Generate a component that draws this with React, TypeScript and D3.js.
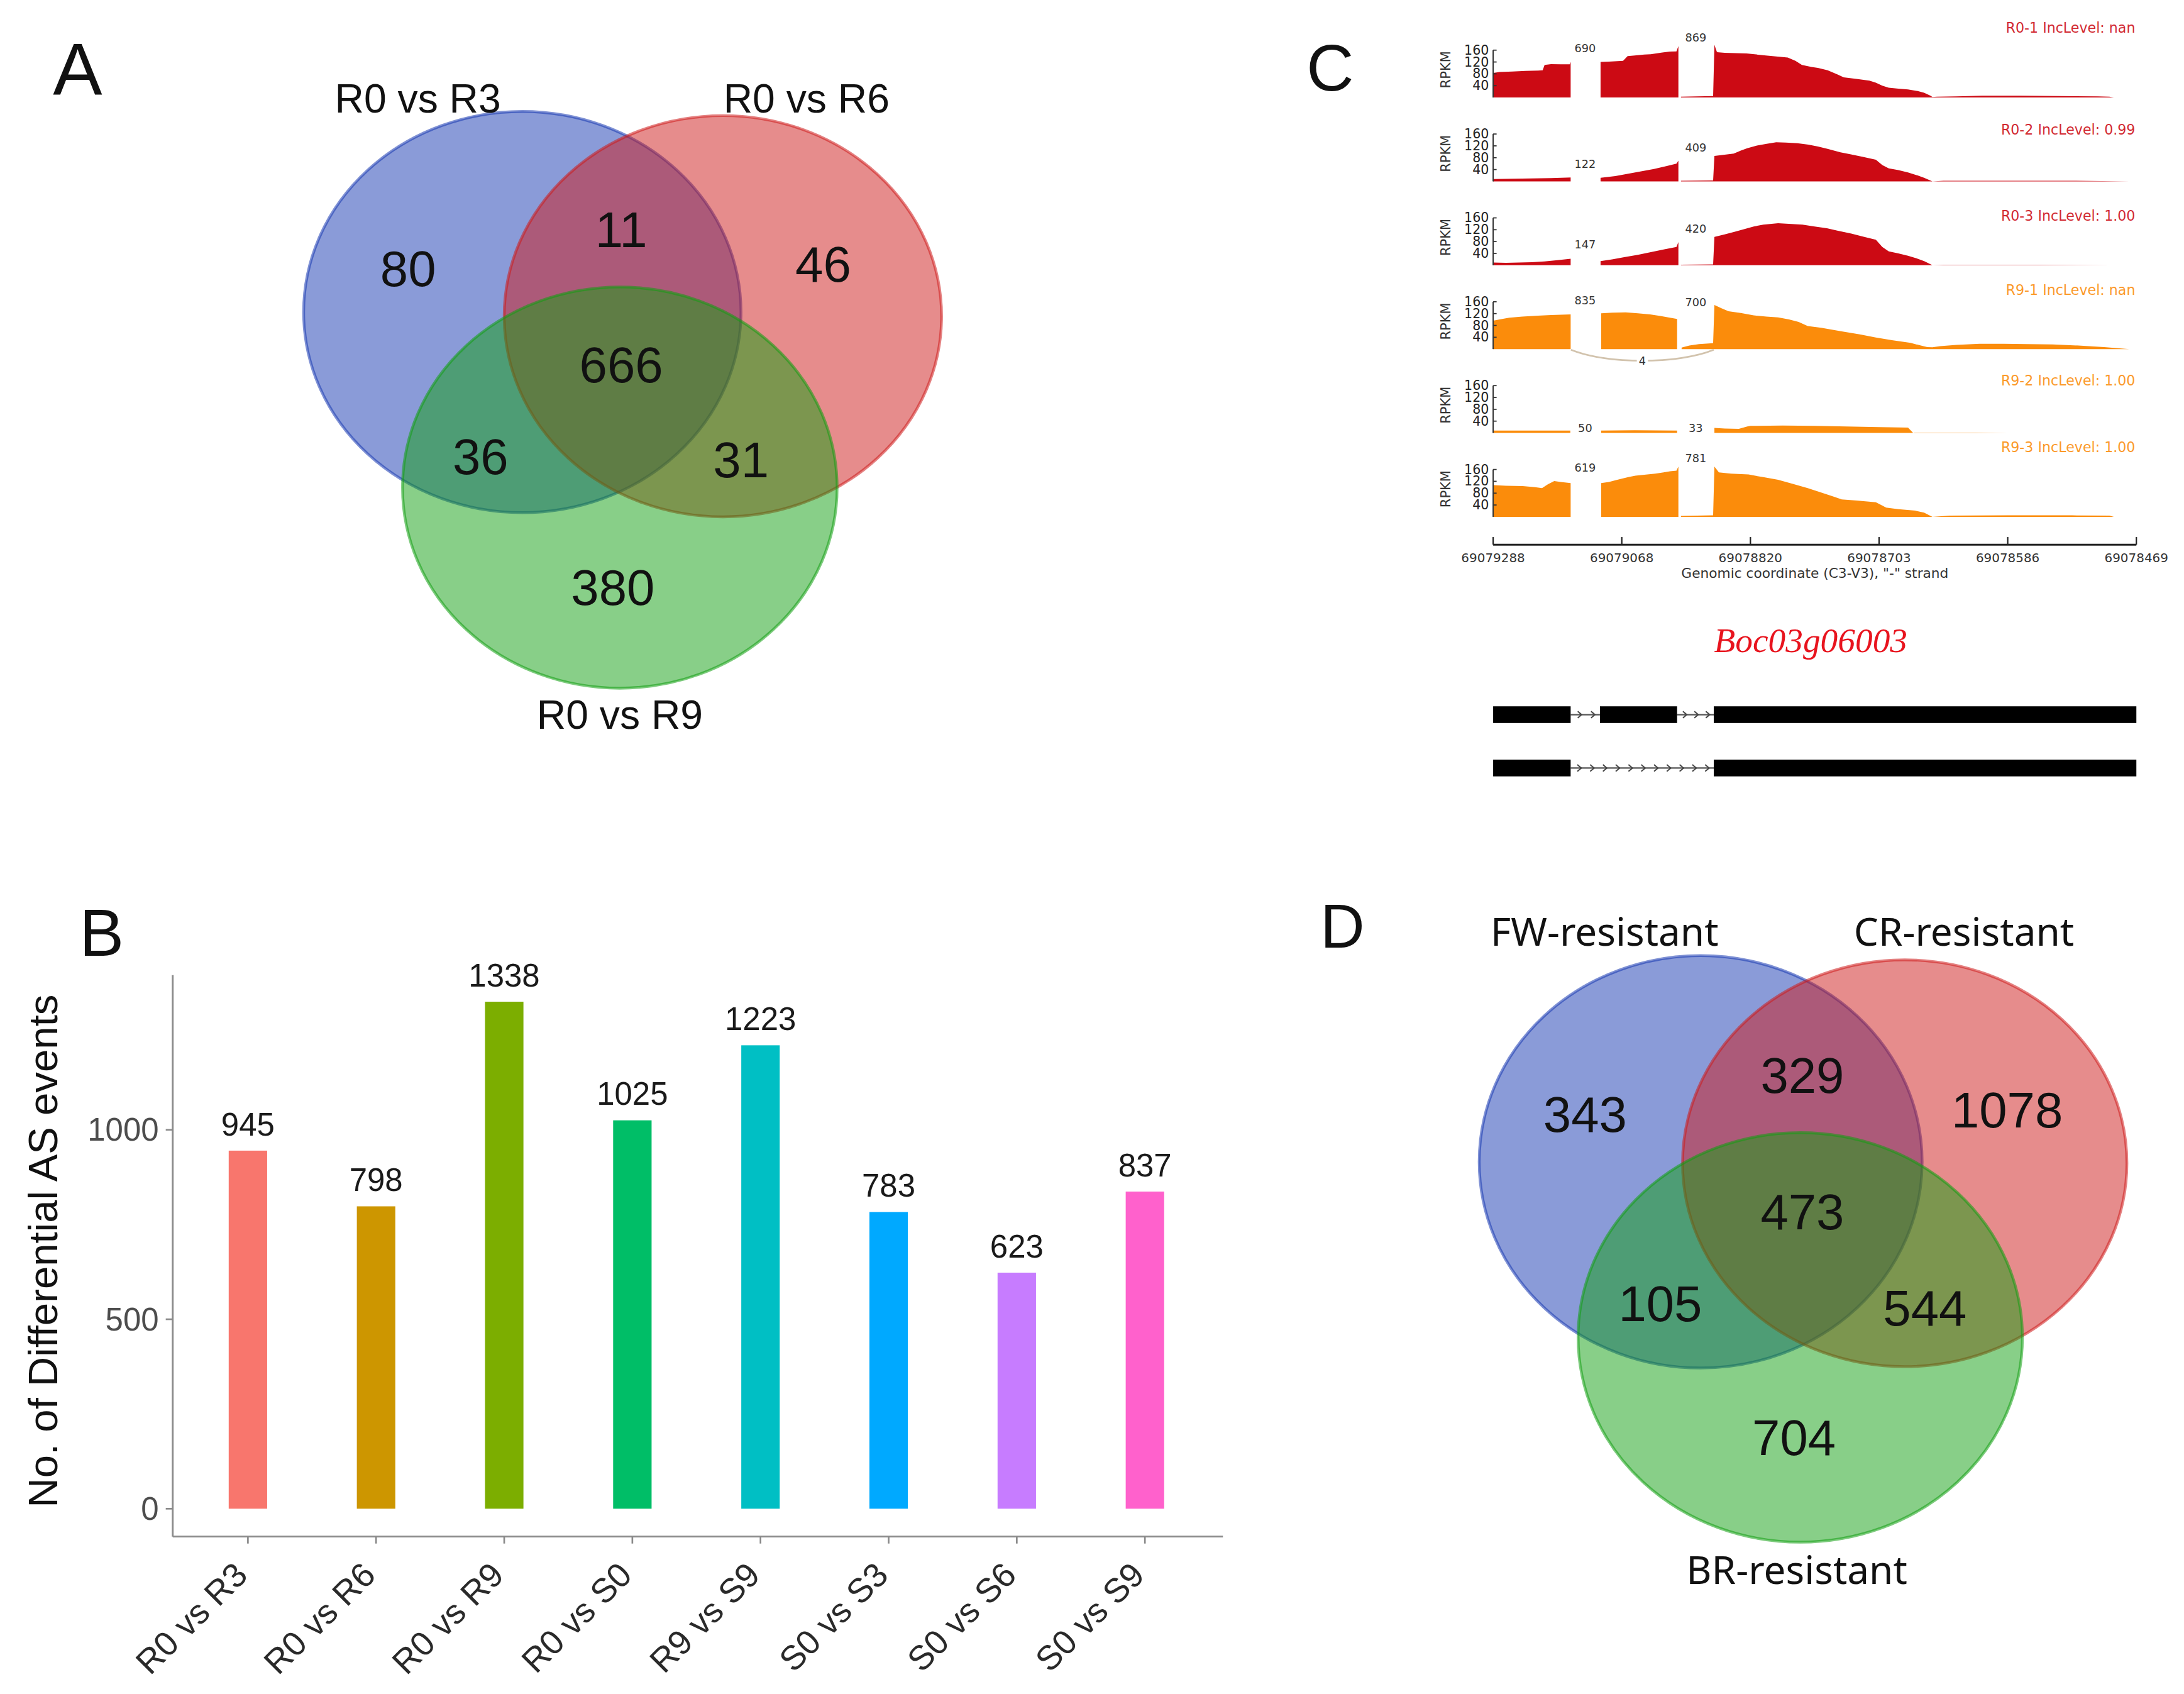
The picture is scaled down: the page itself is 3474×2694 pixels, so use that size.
import React from 'react';
import * as d3 from 'd3';

// ================= DATA =================
// Panel A – Venn (R0 comparisons)
const vennASets = ['R0 vs R3', 'R0 vs R6', 'R0 vs R9'];
const vennARegionKeys = ['100', '010', '001', '110', '101', '011', '111'];
const vennAValues = [80, 46, 380, 11, 36, 31, 666];

// Panel B – bar chart
const barCategories = ['R0 vs R3', 'R0 vs R6', 'R0 vs R9', 'R0 vs S0', 'R9 vs S9', 'S0 vs S3', 'S0 vs S6', 'S0 vs S9'];
const barValues = [945, 798, 1338, 1025, 1223, 783, 623, 837];
const barColors = ['#F8766D', '#CD9600', '#7CAE00', '#00BE67', '#00BFC4', '#00A9FF', '#C77CFF', '#FF61CC'];
const barYTicks = [0, 500, 1000];

// Panel C – sashimi plot (position = % along the compressed genomic axis, value = RPKM; null = gap)
const trackNames = ['R0-1 IncLevel: nan', 'R0-2 IncLevel: 0.99', 'R0-3 IncLevel: 1.00', 'R9-1 IncLevel: nan', 'R9-2 IncLevel: 1.00', 'R9-3 IncLevel: 1.00'];
const trackColors = ['#CC0A14', '#CC0A14', '#CC0A14', '#FB8C0B', '#FB8C0B', '#FB8C0B'];
type Pt = [number, number | null];
const coverageR01: Pt[] = [
  [0, 83], [1, 86], [3, 88], [5, 90], [7, 91], [7.7, 92], [8.0, 110], [9, 113], [10.5, 112], [11.9, 112], [12.05, 120], [12.1, null],
  [16.7, 120], [18, 121], [20.2, 124], [20.9, 140], [22, 142], [23.5, 145], [24.5, 146], [26.3, 152], [27.5, 155], [28.5, 156], [28.8, 174], [29.0, null],
  [29.2, 3], [34.2, 5], [34.4, 178], [34.8, 153], [36, 151], [39.4, 149], [42.4, 142], [45.8, 135], [47, 124], [48, 110], [49.5, 103],
  [50.5, 100], [52, 92], [53.5, 78], [54.5, 68], [56.5, 63], [58.5, 57], [59.5, 50], [60.5, 40], [61.5, 33], [63, 30], [64.5, 27], [66, 22], [67, 16],
  [68, 6], [68.3, 2], [69, 3], [72, 4], [76, 6], [82, 6], [88, 5], [94, 4], [95.8, 3], [96.5, 0],
];
const coverageR02: Pt[] = [
  [0, 8], [3, 9], [6, 10], [9, 11], [12.05, 13], [12.1, null],
  [16.7, 12], [19, 18], [21, 26], [23, 34], [25, 42], [27, 52], [28.5, 60], [28.8, 70], [29.0, null],
  [29.2, 2], [34.2, 3], [34.4, 86], [36, 90], [37.4, 94], [38.5, 104], [39.5, 112], [41, 121], [42.5, 127], [44, 132], [45.5, 131], [47.3, 129],
  [49, 124], [50.5, 118], [52, 110], [54, 98], [55.5, 92], [57.5, 83], [59.5, 73], [60.5, 55], [61.5, 44], [63, 38], [64.5, 30], [66, 20], [67, 12],
  [68.3, 0], [70, 2], [80, 2], [90, 2], [98.9, 0],
];
const coverageR03: Pt[] = [
  [0, 9], [2, 8], [4, 9], [6, 10], [8, 13], [10, 17], [12.05, 22], [12.1, null],
  [16.7, 14], [18.5, 20], [20.5, 28], [22.5, 35], [24.5, 44], [26.5, 53], [28.5, 62], [28.8, 78], [29.0, null],
  [29.2, 2], [34.2, 3], [34.4, 96], [36, 104], [37.4, 112], [39, 122], [40.5, 131], [42, 137], [44.3, 142], [46, 140], [48.1, 137], [50, 131],
  [51.9, 125], [53.5, 117], [55.7, 107], [57.5, 97], [59.5, 86], [60.5, 62], [61.5, 47], [63, 40], [64.5, 32], [66, 22], [67, 14],
  [68.3, 0], [70, 1], [85, 1], [96, 0],
];
const coverageR91: Pt[] = [
  [0, 96], [1, 100], [2.5, 106], [4.5, 110], [7, 113], [9, 115], [12.05, 117], [12.1, null],
  [16.8, 121], [18.5, 123], [20.6, 124], [22.5, 121], [24.4, 117], [26, 112], [27.5, 106], [28.6, 102], [28.8, null],
  [29.3, 5], [30.5, 12], [32, 17], [34.2, 20], [34.4, 149], [35.5, 138], [36.6, 128], [38.5, 122], [40.5, 114], [42.5, 110], [44.3, 107], [46, 100],
  [47.5, 92], [48.9, 78], [51, 72], [54.2, 60], [57, 50], [59.5, 39], [62, 30], [64.9, 21], [66.5, 12], [67.5, 7], [68.3, 6], [69.5, 10],
  [72, 14], [75.6, 18], [79.4, 18], [83, 17], [87, 16], [91, 12], [95, 7], [98.9, 0],
];
const coverageR92: Pt[] = [
  [0, 8], [6, 8], [12.0, 8], [12.1, null],
  [16.8, 8], [22, 9], [28.6, 8], [28.8, null],
  [34.4, 17], [36, 15], [38.2, 14], [39.5, 22], [40, 24], [45, 25], [50, 24], [55, 22], [60, 20], [64.5, 18], [65.3, 0],
  [65.5, 1], [75, 1], [80, 0],
];
const coverageR93: Pt[] = [
  [0, 107], [2, 105], [4.6, 104], [6.5, 100], [7.6, 97], [8.5, 110], [9.5, 121], [10.5, 118], [12.05, 114], [12.1, null],
  [16.8, 114], [18, 118], [19.8, 128], [21, 134], [22.1, 139], [23.5, 142], [25.2, 146], [26.5, 150], [27.5, 154], [28.5, 156], [28.8, 170], [29.0, null],
  [29.2, 3], [34.2, 5], [34.4, 170], [35.1, 150], [37, 146], [39.7, 143], [42, 134], [44.3, 125], [46.5, 112], [48.9, 97], [51, 82], [53, 68],
  [54.2, 59], [56.5, 55], [59.5, 49], [60.5, 38], [61.1, 31], [63, 26], [65.6, 21], [67, 14], [68.3, 0], [71, 4], [80, 5], [90, 5], [95.8, 4], [96.5, 0],
];
const trackCoverage = [coverageR01, coverageR02, coverageR03, coverageR91, coverageR92, coverageR93];
const junctionCounts = [[690, 869], [122, 409], [147, 420], [835, 700], [50, 33], [619, 781]];
const junctionLabelRpkm = [[165, 202], [59, 113], [70, 122], [165, 157], [16, 16], [166, 198]];
const junctionPositions = [14.3, 31.5];
const skipJunctions = [{ track: 3, from: 12.1, to: 34.3, count: 4 }];
const rpkmTicks = [40, 80, 120, 160];
const genomicTickLabels = ['69079288', '69079068', '69078820', '69078703', '69078586', '69078469'];
const isoformExons = [
  [[0, 12.05], [16.6, 28.6], [34.3, 100]],
  [[0, 12.05], [34.3, 100]],
];
const geneName = 'Boc03g06003';

// Panel D – Venn (resistance)
const vennDSets = ['FW-resistant', 'CR-resistant', 'BR-resistant'];
const vennDRegionKeys = ['100', '010', '001', '110', '101', '011', '111'];
const vennDValues = [343, 1078, 704, 329, 105, 544, 473];

// ================= LAYOUT =================
const VW = 1568, VH = 1216;
const vennColors = ['#1537B1', '#CD1919', '#119F11'];
type Ell = { cx: number; cy: number; rx: number; ry: number };
const vennALayout: Ell[] = [
  { cx: 375, cy: 224, rx: 157, ry: 144 },
  { cx: 519, cy: 227, rx: 157, ry: 144 },
  { cx: 445, cy: 350, rx: 156, ry: 144 },
];
const vennALabelPos = [[300, 81], [579, 81], [445, 523]];
const vennANumPos = [[293, 193], [591, 190], [440, 422], [446, 165], [345, 328], [532, 330], [446, 262]];
const vennDLayout: Ell[] = [
  { cx: 1221, cy: 834, rx: 159, ry: 148 },
  { cx: 1367.5, cy: 835, rx: 159.5, ry: 146 },
  { cx: 1292.5, cy: 960, rx: 159.5, ry: 147 },
];
const vennDLabelPos = [[1152, 679], [1410, 679], [1290, 1137]];
const vennDNumPos = [[1138, 800], [1441, 797], [1288, 1032], [1294, 772], [1192, 936], [1382, 939], [1294, 870]];

const trackBase0 = 70, trackStep = 60.2, trackH = 34;
const trackTitleY = [20, 93, 155, 208, 273, 321];

const SANS = '"Liberation Sans", Arial, sans-serif';
const DJ = '"DejaVu Sans", sans-serif';

function Venn({ layout, sets, labelPos, numPos, keys, values, labelFont, labelSize }: any) {
  return (
    <g>
      {layout.map((e: Ell, i: number) => (
        <ellipse key={i} cx={e.cx} cy={e.cy} rx={e.rx} ry={e.ry} fill={vennColors[i]} fillOpacity={0.5}
          stroke={vennColors[i]} strokeOpacity={0.55} strokeWidth={2} />
      ))}
      {keys.map((k: string, i: number) => (
        <text key={k} x={numPos[i][0]} y={numPos[i][1]} textAnchor="middle" dominantBaseline="central"
          fontFamily={SANS} fontSize={36} fill="#111">{values[i]}</text>
      ))}
      {sets.map((s: string, i: number) => (
        <text key={s} x={labelPos[i][0]} y={labelPos[i][1]} textAnchor="middle" fontFamily={labelFont}
          fontSize={labelSize} fill="#111">{s}</text>
      ))}
    </g>
  );
}

function BarPanel() {
  const x = d3.scaleBand<string>().domain(barCategories).range([132, 868]).paddingInner(0.7).paddingOuter(0.35);
  const y = d3.scaleLinear().domain([0, 1500]).range([1083, 1083 - 1500 * 0.272]);
  const axX = 124, axBottom = 1103;
  return (
    <g>
      <text x={57} y={686} fontFamily={SANS} fontSize={48} fill="#111">B</text>
      <line x1={axX} x2={axX} y1={700} y2={axBottom} stroke="#8a8a8a" strokeWidth={1.3} />
      <line x1={axX} x2={878} y1={axBottom} y2={axBottom} stroke="#8a8a8a" strokeWidth={1.3} />
      {barYTicks.map(t => (
        <g key={t}>
          <line x1={axX - 5} x2={axX} y1={y(t)} y2={y(t)} stroke="#8a8a8a" strokeWidth={1.2} />
          <text x={axX - 10} y={y(t)} textAnchor="end" dominantBaseline="central" fontFamily={SANS} fontSize={23} fill="#4D4D4D">{t}</text>
        </g>
      ))}
      {barCategories.map((c, i) => {
        const cx = x(c)! + x.bandwidth() / 2;
        return (
          <g key={c}>
            <rect x={x(c)} y={y(barValues[i])} width={x.bandwidth()} height={y(0) - y(barValues[i])} fill={barColors[i]} />
            <text x={cx} y={y(barValues[i]) - 11} textAnchor="middle" fontFamily={SANS} fontSize={23} fill="#1a1a1a">{barValues[i]}</text>
            <line x1={cx} x2={cx} y1={axBottom} y2={axBottom + 5} stroke="#8a8a8a" strokeWidth={1.2} />
            <text transform={`translate(${cx + 1},${axBottom + 29}) rotate(-45)`} textAnchor="end" fontFamily={SANS} fontSize={24.5} fill="#2a2a2a">{c}</text>
          </g>
        );
      })}
      <text transform={`translate(41,898) rotate(-90)`} textAnchor="middle" fontFamily={SANS} fontSize={29.5} fill="#111">No. of Differential AS events</text>
    </g>
  );
}

function SashimiPanel() {
  const x = d3.scaleLinear().domain([0, 100]).range([1072, 1533.8]);
  const gx = d3.scalePoint<string>().domain(genomicTickLabels).range([1072, 1533.8]);
  const axisY = 391;
  return (
    <g>
      <text x={938} y={65} fontFamily={SANS} fontSize={47} fill="#111">C</text>
      {trackNames.map((name, i) => {
        const base = trackBase0 + trackStep * i;
        const y = d3.scaleLinear().domain([0, 160]).range([base, base - trackH]);
        const area = d3.area<Pt>().defined(d => d[1] !== null).x(d => x(d[0])).y0(base).y1(d => y(d[1] as number));
        const col = trackColors[i];
        const skips = skipJunctions.filter(s => s.track === i);
        return (
          <g key={name}>
            <path d={area(trackCoverage[i]) || ''} fill={col} />
            <line x1={1072} x2={1072} y1={base} y2={y(160)} stroke="#333" strokeWidth={0.9} />
            {rpkmTicks.map(t => (
              <g key={t}>
                <line x1={1072} x2={1074.5} y1={y(t)} y2={y(t)} stroke="#333" strokeWidth={0.8} />
                <text x={1069} y={y(t)} textAnchor="end" dominantBaseline="central" fontFamily={DJ} fontSize={9.3} fill="#222">{t}</text>
              </g>
            ))}
            <text transform={`translate(1038,${base - 20}) rotate(-90)`} textAnchor="middle" dominantBaseline="central" fontFamily={DJ} fontSize={9.5} fill="#333">RPKM</text>
            <text x={1533} y={trackTitleY[i]} textAnchor="end" dominantBaseline="central" fontFamily={DJ} fontSize={10} fill={col} fillOpacity={0.9}>{name}</text>
            {junctionCounts[i].map((c, j) => (
              <text key={j} x={x(junctionPositions[j])} y={y(junctionLabelRpkm[i][j])} textAnchor="middle" dominantBaseline="central" fontFamily={DJ} fontSize={8} fill="#333">{c}</text>
            ))}
            {skips.map((s, k) => {
              const xa = x(s.from), xb = x(s.to), xm = (xa + xb) / 2;
              return (
                <g key={k}>
                  <path d={`M${xa},${base + 0.5} C${xa + (xb - xa) * 0.25},${base + 11} ${xb - (xb - xa) * 0.25},${base + 11} ${xb},${base + 0.5}`} fill="none" stroke="#d2c3ad" strokeWidth={1.2} />
                  <rect x={xm - 4} y={base + 4.5} width={8} height={8} fill="#fff" />
                  <text x={xm} y={base + 8.5} textAnchor="middle" dominantBaseline="central" fontFamily={DJ} fontSize={8} fill="#333">{s.count}</text>
                </g>
              );
            })}
          </g>
        );
      })}
      <line x1={1072} x2={1533.8} y1={axisY} y2={axisY} stroke="#222" strokeWidth={1.3} />
      {genomicTickLabels.map(t => (
        <g key={t}>
          <line x1={gx(t)} x2={gx(t)} y1={axisY} y2={axisY - 5.5} stroke="#222" strokeWidth={1} />
          <text x={gx(t)} y={axisY + 9.5} textAnchor="middle" dominantBaseline="central" fontFamily={DJ} fontSize={9} fill="#333">{t}</text>
        </g>
      ))}
      <text x={1303} y={411.5} textAnchor="middle" dominantBaseline="central" fontFamily={DJ} fontSize={9.8} fill="#333">Genomic coordinate (C3-V3), "-" strand</text>
      <text x={1300} y={468} textAnchor="middle" fontFamily='"Liberation Serif", "Times New Roman", serif' fontStyle="italic" fontSize={25} fill="#E8141E">{geneName}</text>
      {isoformExons.map((exons, r) => {
        const cy = 513 + r * 38.3;
        const introns = exons.slice(1).map((e, k) => [exons[k][1], e[0]]);
        return (
          <g key={r}>
            {introns.map((iv, k) => {
              const xa = x(iv[0]), xb = x(iv[1]);
              const n = Math.max(1, Math.round((xb - xa) / 9.5));
              const step = (xb - xa) / (n + 0.2);
              return (
                <g key={k}>
                  <line x1={xa} x2={xb} y1={cy} y2={cy} stroke="#555" strokeWidth={1} />
                  {d3.range(n).map(m => {
                    const cx = xa + step * (m + 0.7);
                    return <path key={m} d={`M${cx - 1.6},${cy - 2.4} L${cx + 1.2},${cy} L${cx - 1.6},${cy + 2.4}`} fill="none" stroke="#444" strokeWidth={0.9} />;
                  })}
                </g>
              );
            })}
            {exons.map((e, k) => (
              <rect key={k} x={x(e[0])} y={cy - 6} width={x(e[1]) - x(e[0])} height={12} fill="#000" />
            ))}
          </g>
        );
      })}
    </g>
  );
}

export default function App() {
  return (
    <svg width={3474} height={2694} viewBox={`0 0 ${VW} ${VH}`} preserveAspectRatio="none"
      style={{ position: 'absolute', left: 0, top: 0, background: '#fff' }} xmlns="http://www.w3.org/2000/svg">
      <rect x={0} y={0} width={VW} height={VH} fill="#fff" />
      <text x={38} y={68} fontFamily={SANS} fontSize={53} fill="#111">A</text>
      <Venn layout={vennALayout} sets={vennASets} labelPos={vennALabelPos} numPos={vennANumPos} keys={vennARegionKeys} values={vennAValues} labelFont={SANS} labelSize={29} />
      <BarPanel />
      <SashimiPanel />
      <text x={948} y={680} fontFamily={SANS} fontSize={44} fill="#111">D</text>
      <Venn layout={vennDLayout} sets={vennDSets} labelPos={vennDLabelPos} numPos={vennDNumPos} keys={vennDRegionKeys} values={vennDValues} labelFont='"Noto Sans", sans-serif' labelSize={28} />
    </svg>
  );
}
